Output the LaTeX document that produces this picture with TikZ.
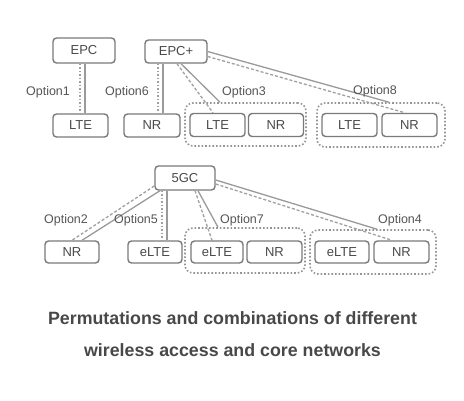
\documentclass[tikz,border=0pt]{standalone}
\usepackage{fontspec}
\setmainfont{Liberation Sans}
\begin{document}
\begin{tikzpicture}[x=1pt,y=-1pt,
  box/.style={draw=boxgray,line width=1.4pt,rounded corners=3.5pt,fill=white,inner sep=0pt,
    minimum height=23pt,text=boxtxt,font=\fontsize{13}{13}\selectfont},
  grp/.style={draw=grpgray,line width=1.6pt,dotted,rounded corners=8pt,inner sep=0pt},
  cpline/.style={draw=lngray,line width=1.3pt},
  upline/.style={draw=dotgray,line width=1.5pt,dotted},
  updash/.style={draw=dotgray,line width=1.3pt,dash pattern=on 3pt off 2pt},
  lbl/.style={text=txtgray,font=\fontsize{12.5}{12.5}\selectfont,inner sep=0pt},
  captext/.style={text=captxt,font=\bfseries\fontsize{17.8}{17.8}\selectfont,inner sep=0pt}]
\definecolor{boxgray}{HTML}{7A7A7A}
\definecolor{grpgray}{HTML}{959595}
\definecolor{lngray}{HTML}{9A9A9A}
\definecolor{dotgray}{HTML}{A0A0A0}
\definecolor{txtgray}{HTML}{555555}
\definecolor{boxtxt}{HTML}{4A4A4A}
\definecolor{captxt}{HTML}{484848}
\useasboundingbox[fill=white] (0,0) rectangle (464,400);

% groups
\node[grp,minimum width=121pt,minimum height=43pt] (g3) at (245.5,124.5) {};
\node[grp,minimum width=128pt,minimum height=44pt] (g8) at (381,125) {};
\node[grp,minimum width=120pt,minimum height=45pt] (g7) at (245,250.5) {};
\node[grp,minimum width=126pt,minimum height=44pt] (g4) at (373,252) {};

% boxes
\node[box,minimum width=62pt,minimum height=25pt] (epc) at (84,50.5) {EPC};
\node[box,minimum width=62pt] (epcp) at (176,51.5) {EPC+};
\node[box,minimum width=55pt] (lte1) at (80.5,125.5) {LTE};
\node[box,minimum width=56pt] (nr6) at (152,125.5) {NR};
\node[box,minimum width=55pt] (lte3) at (217.5,125) {LTE};
\node[box,minimum width=55pt] (nr3) at (276,125) {NR};
\node[box,minimum width=55pt] (lte8) at (349.5,125) {LTE};
\node[box,minimum width=55pt] (nr8) at (409.5,125) {NR};

\node[box,minimum width=60pt,minimum height=24pt] (gc) at (185,178) {5GC};
\node[box,minimum width=54pt,minimum height=22pt] (nr2) at (72,252) {NR};
\node[box,minimum width=54pt,minimum height=22pt] (elte5) at (155,252) {eLTE};
\node[box,minimum width=52pt,minimum height=22pt] (elte7) at (217,252) {eLTE};
\node[box,minimum width=55pt,minimum height=22pt] (nr7) at (274.5,252) {NR};
\node[box,minimum width=54pt,minimum height=22pt] (elte4) at (342,252) {eLTE};
\node[box,minimum width=55pt,minimum height=22pt] (nr4) at (401.5,252) {NR};

% option 1
\draw[upline] ([xshift=-4pt]epc.south) -- ([xshift=-0.5pt]lte1.north);
\draw[cpline] ([xshift=1pt]epc.south) -- ([xshift=4.5pt]lte1.north);
% option 6
\draw[upline] ([xshift=-18pt]epcp.south) -- ([xshift=6pt]nr6.north);
\draw[cpline] ([xshift=-13pt]epcp.south) -- ([xshift=11pt]nr6.north);
% option 3
\draw[updash] ([xshift=1pt]epcp.south) -- ([xshift=-4.5pt]lte3.north);
\draw[cpline] ([xshift=5pt]epcp.south) -- ([xshift=-25.5pt]g3.north);
% option 8
\draw[cpline] (epcp.east) -- ([xshift=8pt]g8.north);
\draw[updash] ([yshift=-5pt]epcp.east) -- ([xshift=-4.5pt]nr8.north);

% option 2
\draw[updash] ([yshift=-8pt]gc.west) -- (nr2.north);
\draw[cpline] ([xshift=-25pt]gc.south) -- ([xshift=10pt]nr2.north);
% option 5
\draw[upline] ([xshift=-23pt]gc.south) -- ([xshift=7pt]elte5.north);
\draw[cpline] ([xshift=-18pt]gc.south) -- ([xshift=12pt]elte5.north);
% option 7
\draw[updash] ([xshift=10pt]gc.south) -- ([xshift=-5pt]elte7.north);
\draw[cpline] ([xshift=13pt]gc.south) -- ([xshift=-27pt]g7.north);
% option 4
\draw[cpline] ([yshift=-2pt]gc.east) -- ([xshift=4pt]g4.north);
\draw[updash] ([yshift=-6pt]gc.east) -- ([xshift=-9.5pt]nr4.north);

% labels
\node[lbl] (l1) at (48,92) {Option1};
\node[lbl] (l6) at (127,92) {Option6};
\node[lbl] (l3) at (244,92) {Option3};
\node[lbl] (l8) at (375,91) {Option8};
\node[lbl] (l2) at (66,220) {Option2};
\node[lbl] (l5) at (136,220) {Option5};
\node[lbl] (l7) at (242,220) {Option7};
\node[lbl] (l4) at (400,220) {Option4};

% caption
\node[captext] (cap1) at (232.5,318) {Permutations and combinations of different};
\node[captext] (cap2) at (232.5,350) {wireless access and core networks};
\end{tikzpicture}
\end{document}
